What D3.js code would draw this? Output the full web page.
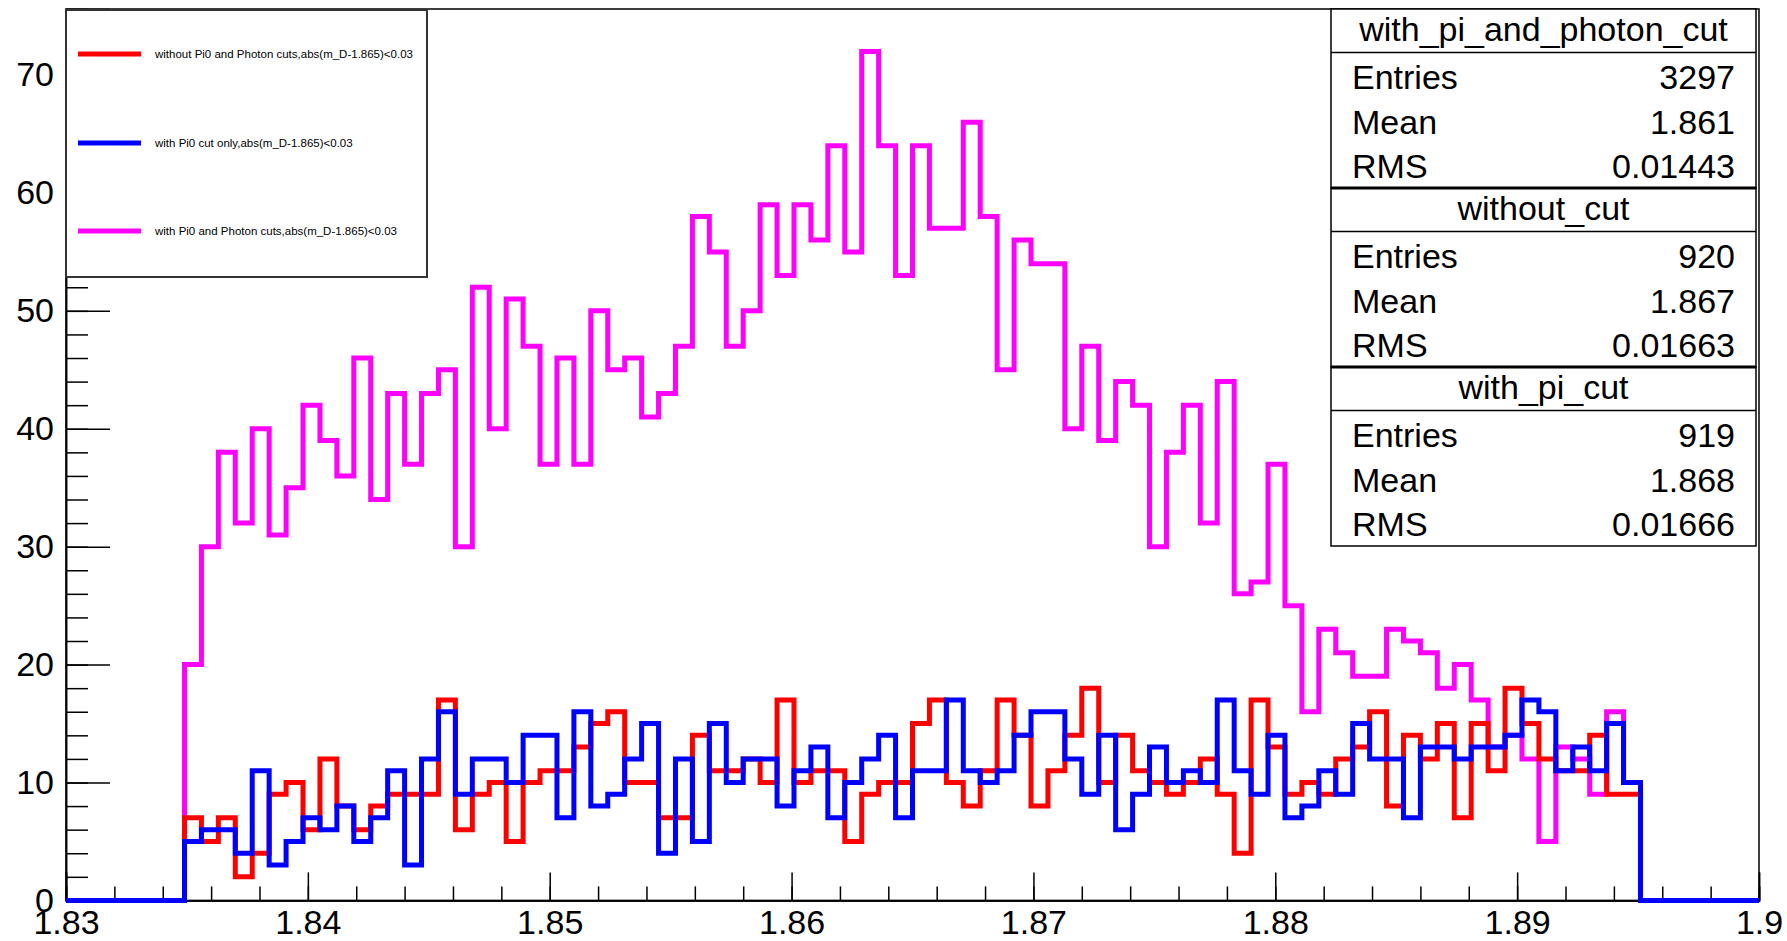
<!DOCTYPE html>
<html>
<head>
<meta charset="utf-8">
<script src="https://cdn.jsdelivr.net/npm/d3@7"></script>
<style>
  html, body { margin: 0; padding: 0; background: #fff; }
  svg { display: block; }
  text { font-family: "Liberation Sans", Arial, Helvetica, sans-serif; fill: #000; }
</style>
</head>
<body>
<svg id="chart" width="1787" height="941"></svg>
<script>
// ---- histogram definition: 100 bins over [1.83, 1.9] ----
const xRange = [1.83, 1.9];
const nBins = 100;
const yMax = 75.6;

const yTickValues = [0, 10, 20, 30, 40, 50, 60, 70];
const xTickValues = [1.83, 1.84, 1.85, 1.86, 1.87, 1.88, 1.89, 1.9];
const xTickLabels = ["1.83", "1.84", "1.85", "1.86", "1.87", "1.88", "1.89", "1.9"];

// bin contents, one value per bin
const withoutCut = [
  0, 0, 0, 0, 0, 0, 0,
  7, 5, 7, 2, 4, 9, 10, 6, 12, 8,
  6, 8, 9, 9, 9, 17, 6, 9, 10, 5,
  10, 11, 11, 13, 15, 16, 10, 10, 7, 7,
  14, 11, 11, 12, 10, 17, 10, 11, 11, 5,
  9, 10, 10, 15, 17, 10, 8, 11, 17, 14,
  8, 11, 14, 18, 10, 14, 11, 10, 9, 10,
  12, 9, 4, 17, 13, 9, 10, 9, 12, 13,
  16, 8, 14, 12, 15, 7, 15, 11, 18, 15,
  12, 11, 11, 14, 9, 9,
  0, 0, 0, 0, 0, 0, 0
];
const withPiCut = [
  0, 0, 0, 0, 0, 0, 0,
  5, 6, 6, 4, 11, 3, 5, 7, 6, 8,
  5, 7, 11, 3, 12, 16, 9, 12, 12, 10,
  14, 14, 7, 16, 8, 9, 12, 15, 4, 12,
  5, 15, 10, 12, 12, 8, 11, 13, 7, 10,
  12, 14, 7, 11, 11, 17, 11, 10, 11, 14,
  16, 16, 12, 9, 14, 6, 9, 13, 10, 11,
  10, 17, 11, 9, 14, 7, 8, 11, 9, 15,
  12, 12, 7, 13, 13, 12, 13, 13, 14, 17,
  16, 11, 13, 11, 15, 10,
  0, 0, 0, 0, 0, 0, 0
];
const withPiAndPhotonCut = [
  0, 0, 0, 0, 0, 0, 0,
  20, 30, 38, 32, 40, 31, 35, 42, 39, 36,
  46, 34, 43, 37, 43, 45, 30, 52, 40, 51,
  47, 37, 46, 37, 50, 45, 46, 41, 43, 47,
  58, 55, 47, 50, 59, 53, 59, 56, 64, 55,
  72, 64, 53, 64, 57, 57, 66, 58, 45, 56,
  54, 54, 40, 47, 39, 44, 42, 30, 38, 42,
  32, 44, 26, 27, 37, 25, 16, 23, 21, 19,
  19, 23, 22, 21, 18, 20, 17, 13, 14, 12,
  5, 13, 12, 9, 16, 10,
  0, 0, 0, 0, 0, 0, 0
];

const legendLabels = [
  "without Pi0 and Photon cuts,abs(m_D-1.865)<0.03",
  "with Pi0 cut only,abs(m_D-1.865)<0.03",
  "with Pi0 and Photon cuts,abs(m_D-1.865)<0.03"
];

const statTitles = ["with_pi_and_photon_cut", "without_cut", "with_pi_cut"];
const statEntries = ["3297", "920", "919"];
const statMeans = ["1.861", "1.867", "1.868"];
const statRms = ["0.01443", "0.01663", "0.01666"];

// ---- layout ----
const frame = { left: 66, right: 1759, top: 9, bottom: 900.4 };
const svg = d3.select("#chart");

const x = d3.scaleLinear().domain(xRange).range([frame.left, frame.right]);
const y = d3.scaleLinear().domain([0, yMax]).range([frame.bottom, frame.top]);

// frame box
svg.append("rect")
  .attr("x", frame.left).attr("y", frame.top)
  .attr("width", frame.right - frame.left).attr("height", frame.bottom - frame.top)
  .attr("fill", "none").attr("stroke", "#000").attr("stroke-width", 1.5);

// y axis: major + minor ticks pointing into the frame
const yMinor = d3.range(0, 76, 2);
const yAxisMinor = svg.append("g").attr("transform", `translate(${frame.left},0)`)
  .call(d3.axisLeft(y).tickValues(yMinor).tickSize(-22).tickFormat(""));
const yAxis = svg.append("g").attr("transform", `translate(${frame.left},0)`)
  .call(d3.axisLeft(y).tickValues(yTickValues).tickSize(-44).tickPadding(12).tickFormat(d3.format("d")));

// x axis: major + minor ticks
const xw = (xRange[1] - xRange[0]);
const xMinor = d3.range(0, 36).map(k => xRange[0] + k * xw / 35);
const xAxisMinor = svg.append("g").attr("transform", `translate(0,${frame.bottom})`)
  .call(d3.axisBottom(x).tickValues(xMinor).tickSize(-14).tickFormat(""));
const xAxis = svg.append("g").attr("transform", `translate(0,${frame.bottom})`)
  .call(d3.axisBottom(x).tickValues(xTickValues).tickSize(-28).tickPadding(9)
    .tickFormat((d, i) => xTickLabels[i]));

[yAxisMinor, yAxis, xAxisMinor, xAxis].forEach(g => {
  g.select(".domain").attr("stroke", "#000").attr("stroke-width", 1.5);
  g.selectAll(".tick line").attr("stroke", "#000").attr("stroke-width", 1.5);
  g.selectAll(".tick text").attr("font-size", 34)
    .attr("font-family", '"Liberation Sans", Arial, Helvetica, sans-serif').attr("fill", "#000");
});

// ---- histogram outlines ----
const binW = xw / nBins;
function stepPoints(counts) {
  const pts = [];
  counts.forEach((v, i) => {
    const lo = xRange[0] + i * binW;
    pts.push([lo, v], [lo + binW, v]);
  });
  return pts;
}
const stepLine = d3.line().x(d => x(d[0])).y(d => y(d[1]));

const series = [
  { counts: withPiAndPhotonCut, color: "#ff00ff" },
  { counts: withoutCut, color: "#ff0000" },
  { counts: withPiCut, color: "#0000ff" }
];
svg.append("g").selectAll("path").data(series).join("path")
  .attr("d", s => stepLine(stepPoints(s.counts)))
  .attr("fill", "none")
  .attr("stroke", s => s.color)
  .attr("stroke-width", 5)
  .attr("stroke-linejoin", "miter")
  .attr("stroke-linecap", "butt");

// ---- legend ----
const legend = svg.append("g");
legend.append("rect")
  .attr("x", 66).attr("y", 10).attr("width", 361).attr("height", 267)
  .attr("fill", "#fff").attr("stroke", "#333").attr("stroke-width", 2);
const legendColors = ["#ff0000", "#0000ff", "#ff00ff"];
const legendY = [54, 143, 231];
legendLabels.forEach((label, i) => {
  legend.append("line")
    .attr("x1", 78).attr("x2", 141).attr("y1", legendY[i]).attr("y2", legendY[i])
    .attr("stroke", legendColors[i]).attr("stroke-width", 5);
  legend.append("text")
    .attr("x", 155).attr("y", legendY[i]).attr("dominant-baseline", "central")
    .attr("font-size", 11.5).attr("fill", "#222").text(label);
});

// ---- statistics boxes ----
const stats = svg.append("g");
const boxL = 1331, boxR = 1756, boxH = 179, titleH = 43.5, rowH = 44.5;
statTitles.forEach((title, k) => {
  const top = 9 + k * boxH;
  stats.append("rect")
    .attr("x", boxL).attr("y", top).attr("width", boxR - boxL).attr("height", boxH)
    .attr("fill", "#fff").attr("stroke", "#000").attr("stroke-width", 1.5);
  stats.append("line")
    .attr("x1", boxL).attr("x2", boxR).attr("y1", top + titleH).attr("y2", top + titleH)
    .attr("stroke", "#000").attr("stroke-width", 1.5);
  stats.append("text")
    .attr("x", (boxL + boxR) / 2).attr("y", top + titleH / 2 - 1.5)
    .attr("text-anchor", "middle").attr("dominant-baseline", "central")
    .attr("font-size", 34).text(title);
  const rows = [["Entries", statEntries[k]], ["Mean", statMeans[k]], ["RMS", statRms[k]]];
  rows.forEach((r, j) => {
    const cy = top + titleH + rowH * (j + 0.5) + 2.5;
    stats.append("text").attr("x", boxL + 21).attr("y", cy)
      .attr("dominant-baseline", "central").attr("font-size", 34).text(r[0]);
    stats.append("text").attr("x", boxR - 21).attr("y", cy)
      .attr("text-anchor", "end").attr("dominant-baseline", "central")
      .attr("font-size", 34).text(r[1]);
  });
});
// heavier rules where neighbouring boxes meet
[1, 2].forEach(k => {
  stats.append("line")
    .attr("x1", boxL).attr("x2", boxR).attr("y1", 9 + k * boxH).attr("y2", 9 + k * boxH)
    .attr("stroke", "#000").attr("stroke-width", 3);
});
</script>
</body>
</html>
